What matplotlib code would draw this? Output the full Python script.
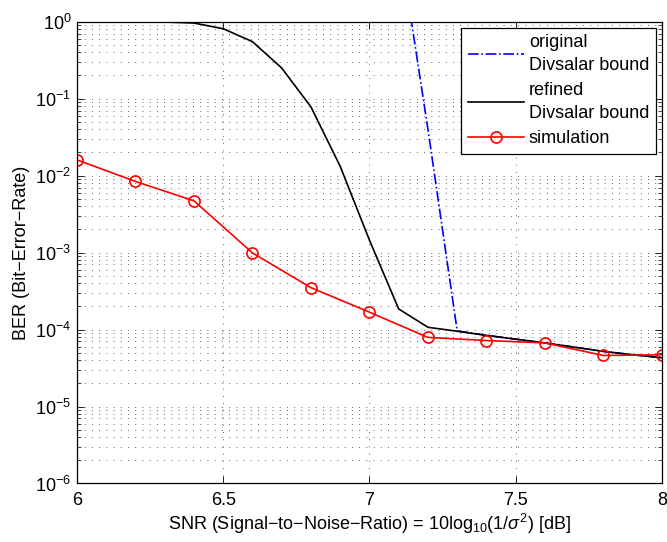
import numpy as np
import matplotlib
matplotlib.use('Agg')
import matplotlib.pyplot as plt
from matplotlib.ticker import LogLocator, NullFormatter

plt.rcParams['font.family'] = ['Liberation Sans', 'DejaVu Sans']
plt.rcParams['mathtext.fontset'] = 'custom'
plt.rcParams['mathtext.rm'] = 'Liberation Sans'
plt.rcParams['mathtext.it'] = 'Liberation Sans:italic'

# original Divsalar bound (blue dash-dot)
snr_orig = [7.1, 7.2, 7.3, 7.4, 7.5, 7.6, 7.7, 7.8, 7.9, 8.0]
ber_orig = [12.0, 4.0e-2, 9.6e-5, 8.4e-5, 7.5e-5, 6.7e-5, 5.9e-5, 5.2e-5, 4.7e-5, 4.3e-5]

# refined Divsalar bound (black)
snr_ref = [6.0, 6.1, 6.2, 6.3, 6.4, 6.5, 6.6, 6.7, 6.8, 6.9, 7.0, 7.1, 7.2, 7.3, 7.4,
           7.5, 7.6, 7.7, 7.8, 7.9, 8.0]
ber_ref = [1.0, 1.0, 1.0, 0.99, 0.96, 0.81, 0.55, 0.25, 0.078, 0.0132, 1.45e-3, 1.85e-4,
           1.07e-4, 9.5e-5, 8.4e-5, 7.5e-5, 6.7e-5, 5.9e-5, 5.2e-5, 4.7e-5, 4.3e-5]

# simulation (red circles)
snr_sim = [6.0, 6.2, 6.4, 6.6, 6.8, 7.0, 7.2, 7.4, 7.6, 7.8, 8.0]
ber_sim = [1.6e-2, 8.4e-3, 4.7e-3, 9.9e-4, 3.5e-4, 1.68e-4, 7.9e-5, 7.2e-5, 6.7e-5,
           4.6e-5, 4.7e-5]

xticks = [6, 6.5, 7, 7.5, 8]
xticklabels = ['6', '6.5', '7', '7.5', '8']

fig = plt.figure(figsize=(6.67, 5.42), dpi=100)
ax = fig.add_axes([0.1154, 0.108, 0.877, 0.852])

ax.plot(snr_orig, ber_orig, color='blue', linestyle='-.', linewidth=1.2,
        label='original\nDivsalar bound')
ax.plot(snr_ref, ber_ref, color='black', linewidth=1.2,
        label='refined\nDivsalar bound')
ax.plot(snr_sim, ber_sim, color='red', linewidth=1.2, marker='o', markersize=8,
        markerfacecolor='none', markeredgewidth=1.2, label='simulation')

ax.set_yscale('log')
ax.set_xlim(6, 8)
ax.set_ylim(1e-6, 1e0)
ax.set_xticks(xticks)
ax.set_xticklabels(xticklabels)
ax.yaxis.set_major_locator(LogLocator(base=10, numticks=10))
ax.yaxis.set_minor_locator(LogLocator(base=10, subs=np.arange(2, 10), numticks=10))
ax.yaxis.set_minor_formatter(NullFormatter())

ax.tick_params(which='both', direction='in', top=True, right=True, labelsize=13)
ax.tick_params(which='major', length=5, width=0.6)
ax.tick_params(which='minor', length=3, width=0.5)
ax.tick_params(axis='x', pad=6)
ax.tick_params(axis='y', pad=4)

grid_style = dict(color='0.3', linestyle=(0, (1, 7)), linewidth=0.65)
ax.grid(True, which='major', **grid_style)
ax.grid(True, which='minor', axis='y', **grid_style)

for sp in ax.spines.values():
    sp.set_linewidth(0.9)

ax.set_xlabel('SNR (Signal\u2212to\u2212Noise\u2212Ratio) = 10log$_{10}$(1/$\\sigma^2$) [dB]',
              fontsize=13, labelpad=2)
ax.set_ylabel('BER (Bit\u2212Error\u2212Rate)', fontsize=13, labelpad=4)

leg = ax.legend(loc='upper right', fontsize=13, fancybox=False, framealpha=1,
                edgecolor='black', borderaxespad=0.35, handlelength=3.1,
                labelspacing=0.45, borderpad=0.35, handletextpad=0.3)
leg.get_frame().set_linewidth(0.9)
for t in leg.get_texts():
    t.set_linespacing(1.45)

fig.savefig('out.png', dpi=100)
